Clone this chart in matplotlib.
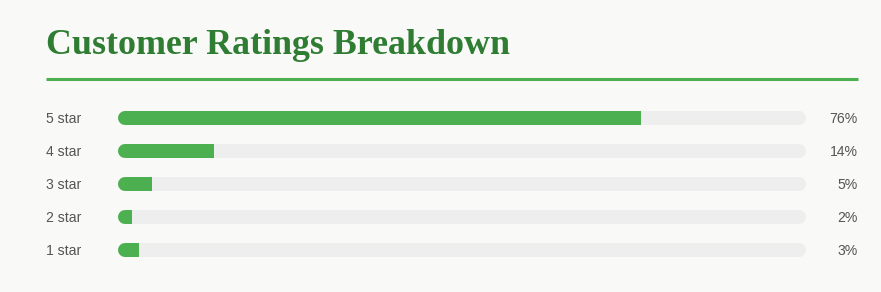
import matplotlib
matplotlib.use("Agg")
import matplotlib.pyplot as plt
from matplotlib.patches import Rectangle

categories = ["5 star", "4 star", "3 star", "2 star", "1 star"]
percentages = [76, 14, 5, 2, 3]
title = "Customer Ratings Breakdown"

W, H, DPI = 881, 292, 100
BG = "#f9f9f7"
GREEN = "#4caf50"
DARKGREEN = "#2e7d32"
TRACK = "#eeeeee"
TEXT = "#555555"

fig = plt.figure(figsize=(W / DPI, H / DPI), dpi=DPI, facecolor=BG)

def fx(px):
    return px / W

def fy(py):
    return 1 - py / H

# title
fig.text(fx(46), fy(53.5), title, family="Liberation Serif", weight="bold",
         fontsize=25.8, color=DARKGREEN, ha="left", va="baseline")
# underline
fig.add_artist(plt.Line2D([fx(46), fx(858)], [fy(79), fy(79)], lw=2.2,
                          color=GREEN, solid_capstyle="butt"))

# bar axes
x0, x1 = 118, 806
row_h = 33
top_center = 118
ax_top = top_center - row_h / 2
ax_h = row_h * len(categories)
ax = fig.add_axes([fx(x0), fy(ax_top + ax_h), (x1 - x0) / W, ax_h / H])
ax.set_xlim(0, 100)
ax.set_ylim(len(categories) - 0.5, -0.5)
ax.set_autoscale_on(False)
ax.axis("off")
ax.set_facecolor("none")

bar_px = 14
bar_h = bar_px / row_h
r = (bar_px / 2) / (x1 - x0) * 100  # cap radius in data units
lw = bar_px * 72 / DPI

ys = list(range(len(categories)))
for y, p in zip(ys, percentages):
    # track: fully rounded
    ax.plot([r, 100 - r], [y, y], color=TRACK, lw=lw,
            solid_capstyle="round", zorder=1)
    # fill: rounded left end, clipped square at the value
    line, = ax.plot([r, max(p, r + 0.5)], [y, y], color=GREEN, lw=lw,
                    solid_capstyle="round", zorder=2)
    clip = Rectangle((0, y - 0.5), p, 1, transform=ax.transData)
    line.set_clip_path(clip)
    ax.barh(y, p - r, left=r, height=bar_h, color=GREEN, lw=0, zorder=3)

for i, (cat, p) in enumerate(zip(categories, percentages)):
    base = top_center + row_h * i + 5.2
    fig.text(fx(46), fy(base), cat, ha="left", va="baseline",
             family="Liberation Sans", fontsize=10.1, color=TEXT)
    fig.text(fx(857.5), fy(base), f"{p}%", ha="right", va="baseline",
             family="Liberation Sans", fontsize=10.1, color=TEXT)

fig.savefig("out.png", dpi=DPI, facecolor=BG)
